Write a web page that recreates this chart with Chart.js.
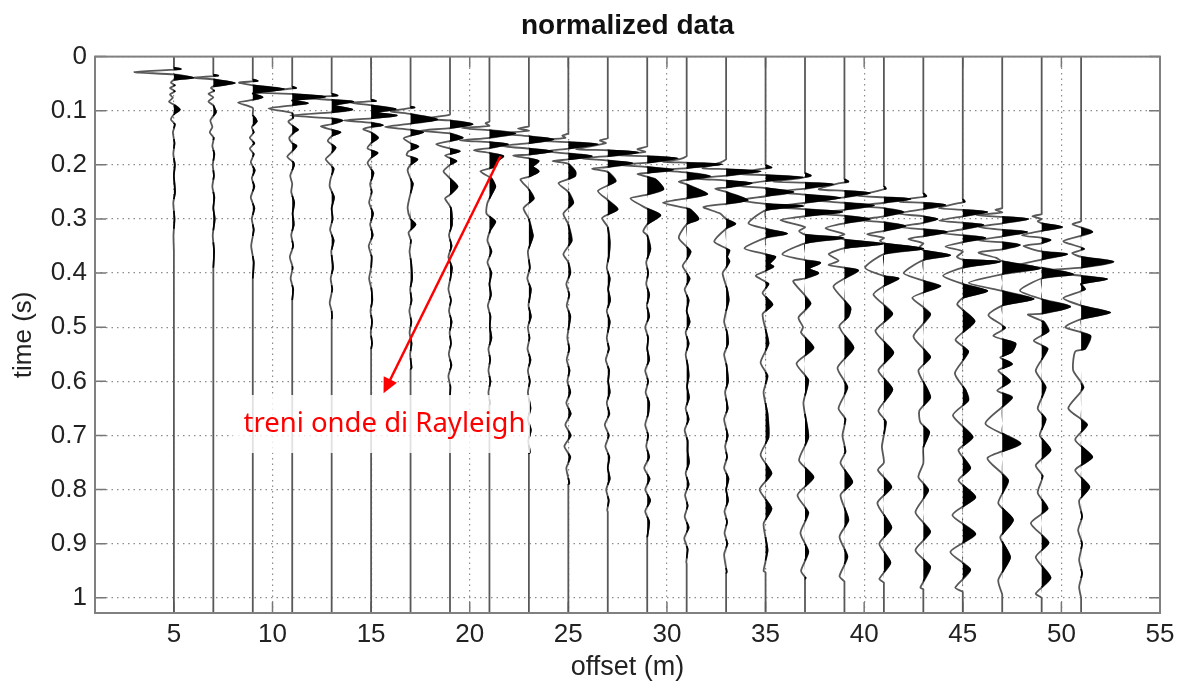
<!DOCTYPE html>
<html><head><meta charset="utf-8">
<style>html,body{margin:0;padding:0;background:#fff}#w{width:1184px;height:684px}</style>
<script src="https://cdn.jsdelivr.net/npm/chart.js@4"></script></head>
<body><div id="w"><canvas id="c"></canvas></div>
<script>
const offsets=[5,7,9,11,13,15,17,19,21,23,25,27,29,31,33,35,37,39,41,43,45,47,49,51];
const yTicks=[0,0.1,0.2,0.3,0.4,0.5,0.6,0.7,0.8,0.9,1];
const xTicks=[5,10,15,20,25,30,35,40,45,50,55];
const titleText="normalized data", xLabel="offset (m)", yLabel="time (s)";
const noteText="treni onde di Rayleigh";
const arrowFrom=[21.56,0.184], arrowTo=[15.63,0.622];
// each trace: pairs of time (s), amplitude (m)
const tr5=[.020,0,.023,.35,.0285,-2,.033,0,.039,1,.043,0,.048,-.15,.053,.05,.058,-.2,.064,.05,.07,-.2,.076,-.05,.083,-.25,.09,.05,.098,.3,.105,.05,.116,-.15,.125,.05,.14,-.05,.16,.03,.18,-.03,.2,.05,.22,0,.25,.06,.27,-.03,.30,.03,.33,-.02,.36,0];
const tr7=[.033,0,.035,.25,.039,-1,.042,0,.049,1.1,.055,0,.058,-.12,.063,.05,.069,-.25,.075,0,.083,-.25,.09,0,.10,.12,.103,.13,.118,-.15,.13,-.05,.14,-.18,.15,.02,.165,-.05,.18,.05,.20,-.03,.22,.03,.24,-.05,.26,.05,.28,0,.30,.07,.33,-.03,.36,.04,.39,0];
const tr9=[.042,0,.045,.25,.048,-.7,.053,0,.060,1.6,.068,0,.075,.5,.080,0,.085,-.75,.095,0,.108,0,.115,.15,.12,.2,.13,-.05,.14,.05,.15,-.15,.16,.08,.17,-.15,.18,.05,.195,-.1,.21,.1,.225,-.05,.24,.08,.26,-.1,.28,.08,.30,-.05,.32,.05,.35,-.08,.38,.05,.41,0];
const tr11=[.055,0,.058,.2,.066,-1.85,.069,0,.074,1.7,.081,0,.086,.8,.09,0,.096,-1.2,.104,0,.113,.05,.12,-.2,.13,.1,.135,.3,.14,.1,.15,-.15,.16,0,.165,.22,.175,0,.185,-.25,.195,.05,.2,.1,.22,-.1,.235,0,.25,-.05,.27,.1,.29,.02,.31,.08,.33,-.05,.35,.05,.37,-.12,.39,.02,.41,-.08,.43,.05,.45,0];
const tr13=[.068,0,.072,.3,.076,-1.6,.08,0,.083,1.1,.09,.1,.098,1.05,.103,0,.109,-2.1,.114,0,.118,.55,.125,0,.129,-.55,.135,0,.14,.45,.147,0,.156,-.2,.168,.2,.18,-.05,.19,-.3,.207,.1,.225,-.05,.24,-.1,.26,.12,.28,0,.30,.05,.32,-.08,.34,.1,.36,-.02,.39,.07,.41,-.05,.43,.03,.455,-.1,.47,0,.482,.02];
const tr15=[.079,0,.082,.25,.085,-1,.09,0,.097,1.25,.103,.2,.109,1.3,.114,0,.118,-1.4,.122,0,.127,.6,.13,0,.134,-.4,.14,0,.15,.35,.16,0,.17,-.18,.178,.33,.187,0,.197,-.18,.215,.12,.235,-.05,.25,.03,.27,-.1,.29,.1,.31,-.05,.33,.08,.35,-.12,.37,.03,.39,0,.41,-.1,.43,.02,.45,.06,.47,-.03,.49,.05,.51,-.02,.53,.05,.54,0];
const tr17=[.092,0,.094,.2,.101,-1,.106,0,.116,1.37,.124,0,.13,-1.3,.135,0,.14,.65,.146,0,.151,-.35,.16,0,.166,.4,.175,-.1,.182,-.2,.19,.35,.2,0,.21,-.15,.23,.05,.235,.12,.26,-.05,.28,-.15,.3,0,.31,.25,.325,-.1,.34,.02,.36,-.05,.38,.03,.41,.08,.43,-.02,.45,.05,.47,-.06,.49,.04,.51,-.05,.53,.05,.55,-.02,.575,.05];
const tr19=[.107,0,.115,-1.3,.118,0,.125,1.15,.132,0,.137,-1.5,.142,0,.15,.65,.156,0,.162,-.7,.17,0,.175,.5,.183,-.25,.193,.33,.2,0,.212,-.33,.225,0,.24,.38,.255,0,.262,-.25,.28,.05,.31,.1,.33,-.05,.35,.08,.37,-.08,.39,.1,.41,.02,.43,-.08,.45,.05,.47,-.05,.49,.08,.51,-.02,.53,.05,.55,-.06,.57,.07,.59,-.08,.61,.02,.626,0];
const tr21=[.12,0,.123,-.2,.128,0,.132,-1.4,.136,0,.142,1.32,.15,0,.155,-1.5,.158,0,.162,.95,.169,0,.173,-.8,.178,0,.184,.71,.195,.3,.203,.3,.212,-.46,.225,.1,.24,.3,.248,.2,.27,-.1,.29,-.15,.305,.3,.32,.05,.34,-.1,.36,.1,.38,-.1,.4,.1,.42,0,.44,.08,.46,-.08,.48,.05,.5,.02,.52,.1,.54,-.05,.56,.04,.58,-.05,.6,.05,.62,-.05,.641,.03];
const tr23=[.129,0,.133,-.55,.137,0,.142,-1.5,.147,0,.153,1.25,.16,0,.165,-1.4,.17,0,.175,1.2,.181,0,.183,-.8,.188,0,.193,.5,.203,.2,.212,.5,.222,0,.227,-.43,.245,0,.262,.25,.28,-.27,.3,0,.33,.2,.335,.18,.36,-.05,.39,.05,.41,-.08,.43,.1,.46,-.02,.48,.1,.5,-.05,.52,.03,.54,-.07,.56,.08,.58,-.05,.6,.05,.62,-.05,.65,.08,.67,-.05,.69,.1,.71,-.03,.731,.05];
const tr25=[.142,0,.146,-.3,.15,-.15,.155,-1.6,.158,0,.162,1.5,.17,0,.175,-1.2,.179,0,.184,1.2,.19,0,.193,-.8,.198,0,.212,.35,.22,.35,.225,.1,.234,-.5,.25,0,.27,.25,.29,-.25,.31,0,.34,.17,.365,-.25,.38,0,.4,.1,.42,-.1,.44,.05,.46,-.08,.48,.1,.5,.02,.52,-.05,.54,.05,.56,-.08,.58,.06,.6,-.05,.62,.1,.64,-.1,.66,.12,.68,-.15,.7,.12,.72,-.2,.74,.1,.76,-.1,.788,.05];
const tr27=[.151,0,.155,-.4,.16,-.1,.171,-1.6,.173,0,.177,1.55,.184,0,.188,-1.4,.192,0,.197,1.25,.204,0,.207,-.8,.213,0,.23,.4,.248,-.5,.265,0,.282,.5,.298,-.28,.315,0,.343,.1,.37,.05,.39,-.05,.41,.1,.43,.02,.45,.12,.47,-.05,.49,.1,.52,-.05,.54,.06,.56,-.1,.58,.07,.6,.02,.62,.1,.64,-.05,.66,.08,.68,-.15,.7,.05,.72,-.12,.74,.08,.76,0,.78,.1,.8,-.08,.82,.05,.838,-.03];
const tr29=[.166,0,.171,-.5,.176,-.1,.182,-1.5,.184,0,.188,1.55,.196,0,.2,-1.5,.204,0,.209,1.33,.215,0,.217,-.5,.222,0,.227,.42,.245,.82,.255,0,.262,-.85,.28,-.05,.293,.67,.31,0,.323,-.2,.33,0,.355,.16,.38,-.05,.4,.05,.42,-.05,.44,.1,.46,-.02,.48,.1,.5,-.1,.52,.05,.54,0,.56,.1,.58,-.1,.6,.05,.62,-.08,.64,.1,.66,.05,.68,-.1,.7,.05,.72,-.05,.74,.1,.76,-.15,.78,.12,.8,-.1,.82,.15,.84,-.1,.86,.1,.888,0];
const tr31=[.184,0,.19,-.4,.194,-1.2,.196,0,.199,1.8,.206,0,.21,-1.4,.214,0,.221,1.2,.228,0,.231,-.4,.236,0,.254,1.05,.262,0,.27,-1.2,.28,0,.283,.2,.3,.6,.31,0,.335,-.4,.36,.2,.375,0,.387,-.2,.41,.15,.43,-.1,.45,.1,.47,0,.49,.15,.51,-.05,.53,.1,.55,-.05,.57,.05,.59,.1,.61,.02,.63,.12,.65,-.05,.67,.1,.69,-.1,.71,.05,.73,.05,.75,.12,.77,-.05,.79,.1,.81,-.08,.83,.05,.85,-.1,.87,.1,.89,-.12,.91,.05,.934,-.02];
const tr33=[.19,0,.196,-.3,.206,-1.2,.208,0,.212,1.75,.22,0,.225,-1.6,.229,0,.234,1.3,.242,0,.244,-.55,.25,0,.265,1.1,.272,0,.278,-1.15,.29,-.3,.3,0,.309,.47,.318,0,.342,-.6,.358,.17,.37,.05,.378,.17,.39,0,.4,-.18,.43,.05,.45,.13,.47,0,.49,-.1,.51,.05,.53,.1,.55,-.1,.57,.02,.6,.1,.62,-.05,.65,.08,.67,-.1,.7,.08,.72,-.05,.74,.05,.76,-.1,.78,.12,.8,0,.82,.1,.84,-.08,.86,.05,.88,-.08,.9,.06,.92,-.1,.952,.03];
const tr35=[.2,0,.205,.3,.208,-.3,.216,-1.5,.219,0,.223,1.92,.23,0,.238,-1.5,.243,0,.25,1.42,.258,0,.265,-1.3,.272,0,.276,1.92,.284,0,.308,-.87,.318,0,.327,1.1,.335,0,.354,-1.07,.365,0,.37,.5,.383,.2,.388,.4,.396,0,.405,-.5,.42,.15,.437,-.15,.458,.35,.476,-.15,.53,.15,.565,-.25,.59,.1,.62,-.1,.66,.1,.703,.15,.736,-.25,.77,.3,.80,-.3,.835,.3,.863,-.1,.912,.1,.95,-.1,.953,0];
const tr37=[.215,0,.22,.3,.225,-.3,.231,-1.6,.233,0,.236,1.45,.244,0,.25,-1.5,.255,0,.261,1.8,.27,0,.278,-1.5,.282,0,.287,1.9,.295,0,.302,-1.25,.315,0,.322,-.3,.329,0,.335,1.95,.345,0,.365,-1.15,.376,0,.381,.78,.392,.2,.4,.68,.41,0,.415,-.6,.456,.28,.482,-.33,.5,-.1,.51,-.2,.538,.43,.567,-.43,.598,.17,.64,-.08,.703,.17,.746,-.3,.777,.43,.81,-.38,.843,.17,.88,-.23,.915,.17,.95,-.2,.963,.03];
const tr39=[.226,0,.231,.2,.235,-.4,.245,-1.3,.248,0,.252,1.3,.26,0,.266,-1.5,.27,0,.275,1.5,.283,0,.29,-1.5,.294,0,.3,1.3,.308,0,.317,-.96,.328,0,.333,-.3,.338,0,.346,1.98,.354,0,.365,-.8,.377,-.3,.385,-.8,.39,0,.395,.7,.41,0,.425,-.56,.464,.3,.48,.2,.497,-.25,.51,-.1,.538,.46,.575,-.35,.611,.15,.65,-.3,.67,.05,.70,-.1,.73,.05,.751,-.2,.786,.4,.81,-.2,.856,.2,.887,-.25,.924,.15,.96,-.25,.97,0];
const tr41=[.239,0,.244,.1,.248,-.3,.257,-1.3,.26,0,.263,1.35,.27,0,.276,-1.3,.28,0,.287,1,.295,0,.302,-1.2,.306,0,.313,1.1,.322,0,.328,-.85,.335,0,.34,-.2,.345,0,.355,2,.365,0,.39,-.95,.405,0,.41,.75,.424,0,.44,-.53,.475,.43,.507,-.43,.547,.48,.58,-.28,.615,.43,.654,-.28,.675,.1,.72,-.1,.75,0,.764,-.3,.795,.38,.825,-.33,.87,.38,.9,-.23,.935,.33,.965,-.23,.972,0];
const tr43=[.252,0,.258,.15,.262,-.6,.268,-1.2,.27,0,.274,1.12,.282,0,.29,-1.3,.295,0,.3,.72,.307,0,.315,-1.2,.319,0,.324,1.2,.332,0,.337,-.76,.345,0,.352,-.2,.358,0,.367,1.37,.376,0,.40,-1,.414,0,.424,.87,.436,0,.446,-.56,.476,.35,.517,-.5,.555,.35,.58,-.25,.615,.2,.63,.35,.654,-.2,.676,-.15,.694,.3,.722,0,.751,0,.777,-.25,.801,.25,.842,-.4,.878,.35,.912,-.4,.943,.35,.981,-.15];
const tr45=[.263,0,.268,.1,.272,-.4,.28,-1.2,.283,0,.287,1.25,.295,0,.303,-1.2,.307,0,.311,1.05,.319,0,.326,-1.1,.33,0,.335,1.15,.343,0,.351,-.88,.36,0,.37,-.3,.375,0,.379,1.9,.39,0,.405,-1,.42,0,.433,1.25,.446,0,.458,-.28,.489,.6,.523,-.37,.545,.28,.585,-.4,.617,.15,.635,.28,.663,-.5,.703,.5,.727,-.22,.76,.38,.783,-.22,.814,.64,.847,-.53,.882,.64,.915,-.63,.948,.38,.981,-.38,.989,0];
const tr47=[.28,0,.283,-.35,.288,0,.293,-1.3,.296,0,.3,1.33,.308,0,.315,-1.2,.32,0,.324,1.27,.332,0,.34,-1.2,.343,0,.348,.9,.356,0,.362,-1.2,.372,-.3,.378,0,.391,1.93,.402,0,.418,-1.7,.433,0,.448,1.6,.46,0,.478,-.7,.501,.15,.516,-.45,.53,.67,.545,.5,.556,-.1,.568,.5,.58,-.2,.6,.4,.617,-.25,.63,.5,.678,-.85,.715,.93,.742,-.75,.783,.3,.825,-.2,.856,.55,.888,-.1,.925,.4,.967,-.2,.994,0];
const tr49=[.291,0,.295,-.47,.3,0,.304,-.2,.308,0,.315,1.05,.322,0,.33,-1,.335,0,.339,.45,.345,0,.35,-.92,.36,0,.365,1.3,.375,0,.385,-1.2,.39,0,.402,1.6,.41,0,.432,-1.1,.448,0,.462,1.45,.475,0,.477,-.7,.49,.1,.507,.35,.525,-.4,.54,.3,.58,-.3,.611,.2,.65,-.2,.67,.2,.7,-.1,.727,.45,.755,-.3,.775,.05,.806,-.2,.835,.3,.862,-.55,.898,.35,.925,-.3,.963,.45,.992,-.3,1,0];
const tr51=[.304,0,.31,-.43,.324,.57,.341,-.9,.355,.15,.363,-.45,.37,0,.379,1.64,.39,0,.396,-2,.405,0,.411,1.33,.42,0,.43,.2,.446,-.9,.46,0,.473,1.48,.485,0,.5,-.8,.516,.47,.54,.2,.545,-.3,.58,-.4,.611,.12,.65,-.65,.68,.3,.708,-.3,.74,.57,.764,-.3,.795,.42,.82,-.1,.85,.05,.875,-.15,.9,.05,.93,-.1,.955,.05,.98,-.1,1,0];
const traces=[tr5,tr7,tr9,tr11,tr13,tr15,tr17,tr19,tr21,tr23,tr25,tr27,tr29,tr31,tr33,tr35,tr37,tr39,tr41,tr43,tr45,tr47,tr49,tr51];

const xMin=1,xMax=55,yMax=1.028;
const datasets=[];
traces.forEach((tr,k)=>{
  const off=offsets[k];
  const first=tr[0], last=tr[tr.length-2];
  // straight lead-in above the first break
  const pts=[{t:0,a:0},{t:first*.6,a:0},{t:first-.004,a:0}];
  for(let i=0;i<tr.length;i+=2)pts.push({t:tr[i],a:tr[i+1]});
  // the record stops here: the trace runs straight to the bottom of the axes
  pts.push({t:last+.003,a:0});
  pts.push({t:last+.006,a:0});
  pts.push({t:yMax,a:0});
  // positive lobes only, closed at the zero crossings
  const lobe=[];
  pts.forEach((p,i)=>{
    if(i>0){const q=pts[i-1];
      if(q.a*p.a<0){const f=q.a/(q.a-p.a);lobe.push({x:off,y:q.t+f*(p.t-q.t)});}}
    lobe.push({x:off+Math.max(p.a,0),y:p.t});
  });
  datasets.push({data:lobe,borderWidth:1.6,borderColor:'#000',backgroundColor:'#000',fill:{value:off},pointRadius:0,tension:.22,order:2,
    segment:{borderColor:c=>(c.p0.parsed.x===off&&c.p1.parsed.x===off)?'rgba(0,0,0,0)':'#000'}});
  datasets.push({data:pts.map(p=>({x:off+p.a,y:p.t})),borderWidth:1.8,borderColor:'#585858',fill:false,pointRadius:0,tension:.22,order:3});
});

const frame={id:'frame',
  beforeDatasetsDraw(ch){
    const {ctx,chartArea:a,scales:{x,y}}=ch;
    ctx.save();ctx.strokeStyle='#777';ctx.lineWidth=1.5;ctx.beginPath();
    xTicks.forEach(v=>{const p=x.getPixelForValue(v);ctx.moveTo(p,a.bottom);ctx.lineTo(p,a.bottom-11);ctx.moveTo(p,a.top);ctx.lineTo(p,a.top+11);});
    yTicks.forEach(v=>{const p=y.getPixelForValue(v);ctx.moveTo(a.left,p);ctx.lineTo(a.left+11,p);ctx.moveTo(a.right,p);ctx.lineTo(a.right-11,p);});
    ctx.stroke();ctx.restore();
  },
  afterDatasetsDraw(ch){
    const {ctx,chartArea:a,scales:{x,y}}=ch;
    ctx.save();
    ctx.strokeStyle='#808080';ctx.lineWidth=2;ctx.strokeRect(a.left,a.top,a.right-a.left,a.bottom-a.top);
    const to=[x.getPixelForValue(arrowTo[0]),y.getPixelForValue(arrowTo[1])];
    const from=[x.getPixelForValue(arrowFrom[0]),y.getPixelForValue(arrowFrom[1])];
    ctx.fillStyle='rgba(255,255,255,0.82)';ctx.fillRect(233,395,297,58);
    ctx.font='27.5px "Noto Sans"';ctx.textAlign='center';ctx.textBaseline='middle';
    ctx.fillStyle='#ff0000';ctx.fillText(noteText,384.5,424);
    ctx.strokeStyle='#ff0000';ctx.lineWidth=2.5;ctx.beginPath();ctx.moveTo(from[0],from[1]);
    const ang=Math.atan2(to[1]-from[1],to[0]-from[0]);
    ctx.lineTo(to[0]-Math.cos(ang)*10,to[1]-Math.sin(ang)*10);ctx.stroke();
    ctx.fillStyle='#ff0000';ctx.beginPath();ctx.moveTo(to[0],to[1]);
    [0.45,-0.45].forEach(d=>ctx.lineTo(to[0]-Math.cos(ang+d)*17,to[1]-Math.sin(ang+d)*17));
    ctx.closePath();ctx.fill();
    ctx.restore();
  }};

new Chart(document.getElementById('c'),{
  type:'line',
  data:{datasets},
  plugins:[frame],
  options:{
    indexAxis:'y',responsive:true,maintainAspectRatio:false,animation:false,
    layout:{padding:{left:0,right:24,top:0,bottom:0}},
    plugins:{legend:{display:false},tooltip:{enabled:false},
      title:{display:true,fullSize:false,text:titleText,color:'#111',font:{family:'"Liberation Sans"',size:28,weight:'bold'},padding:{top:9,bottom:14}}},
    scales:{
      x:{type:'linear',position:'bottom',min:xMin,max:xMax,
        afterFit(s){s.height=71;},
        afterBuildTicks(s){s.ticks=xTicks.map(v=>({value:v}));},
        ticks:{color:'#222',padding:6,font:{family:'"Liberation Sans"',size:26},maxRotation:0,autoSkip:false,callback:v=>String(v)},
        grid:{color:'#8c8c8c',drawTicks:false,tickLength:0,lineWidth:1.2},border:{display:false,dash:[1.5,4]},
        title:{display:true,text:xLabel,color:'#222',font:{family:'"Liberation Sans"',size:27},padding:{top:0,bottom:0}}},
      y:{type:'linear',position:'left',reverse:true,min:0,max:yMax,
        afterFit(s){s.width=95;},
        afterBuildTicks(s){s.ticks=yTicks.map(v=>({value:v}));},
        ticks:{color:'#222',padding:8,font:{family:'"Liberation Sans"',size:26},autoSkip:false,callback:v=>String(v)},
        grid:{color:'#8c8c8c',drawTicks:false,tickLength:0,lineWidth:1.2},border:{display:false,dash:[1.5,4]},
        title:{display:true,text:yLabel,color:'#222',font:{family:'"Liberation Sans"',size:26},padding:{top:8,bottom:0}}}
    }
  }
});
</script></body></html>
